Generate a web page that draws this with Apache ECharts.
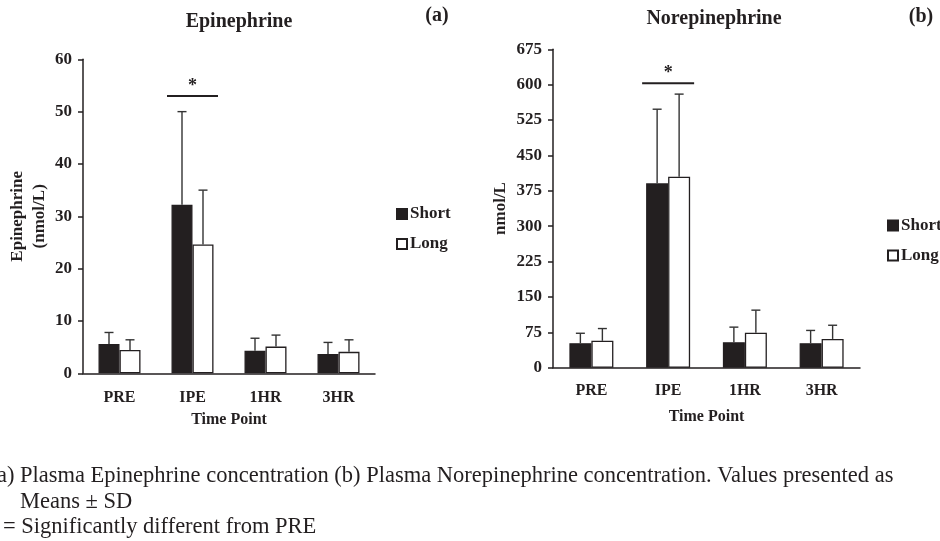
<!DOCTYPE html>
<html>
<head>
<meta charset="utf-8">
<script src="https://cdn.jsdelivr.net/npm/echarts@6/dist/echarts.min.js"></script>
<style>
  html, body { margin: 0; padding: 0; background: #fff; }
  #main { width: 940px; height: 541px; }
</style>
</head>
<body>
<div id="main"></div>
<script>
// time points
const categories = ['PRE', 'IPE', '1HR', '3HR'];

// (a) epinephrine, nmol/L
const epiShort = [5.6, 32.2, 4.3, 3.7];
const epiShortTop = [7.8, 50, 6.7, 5.9];
const epiLong = [4.45, 24.6, 5.1, 4.1];
const epiLongTop = [6.4, 35, 7.3, 6.4];

// (b) norepinephrine, nmol/L
const norShort = [52, 391, 54, 52];
const norShortTop = [73, 548, 86, 79];
const norLong = [57, 405, 74, 61];
const norLongTop = [83, 580, 122, 90];

// significance bar over IPE: [category index, y value]
const epiSig = [[1, 53]];
const norSig = [[1, 603]];

const ink = '#231f20';
const serif = '"Liberation Serif", "Times New Roman", serif';

var myChart = echarts.init(document.getElementById('main'));

// error bar: only the upper whisker with a cap
function errorBar(offset) {
  return function (params, api) {
    const base = api.coord([api.value(0), api.value(1)]);
    const top = api.coord([api.value(0), api.value(2)]);
    const x = base[0] + offset;
    const style = { stroke: '#333', lineWidth: 1.4 };
    return {
      type: 'group',
      children: [
        { type: 'line', shape: { x1: x, y1: base[1], x2: x, y2: top[1] }, style },
        { type: 'line', shape: { x1: x - 4.5, y1: top[1], x2: x + 4.5, y2: top[1] }, style }
      ]
    };
  };
}

// line with asterisk above
function sigMark(halfWidth) {
  return function (params, api) {
    const p = api.coord([api.value(0), api.value(1)]);
    return {
      type: 'group',
      children: [
        { type: 'line', shape: { x1: p[0] - halfWidth, y1: p[1], x2: p[0] + halfWidth, y2: p[1] },
          style: { stroke: ink, lineWidth: 2 } },
        { type: 'text', x: p[0], y: p[1] - 1,
          style: { text: '*', font: 'bold 18px ' + serif, fill: ink, textAlign: 'center', textVerticalAlign: 'bottom' } }
      ]
    };
  };
}

function zip(idx, a, b) {
  return a.map((v, i) => [idx[i], v, b[i]]);
}
const idx = categories.map((c, i) => i);

const labelFont = { fontFamily: serif, fontWeight: 'bold', color: ink };

function xAxis(gridIndex, labelMargin, nameGap) {
  return {
    type: 'category',
    gridIndex,
    data: categories,
    name: 'Time Point',
    nameLocation: 'middle',
    nameGap,
    nameTextStyle: { ...labelFont, fontSize: 16 },
    axisLine: { lineStyle: { color: ink, width: 1.5 } },
    axisTick: { length: 5, lineStyle: { color: ink, width: 1.5 } },
    axisLabel: { ...labelFont, fontSize: 16, margin: labelMargin },
    splitLine: { show: false }
  };
}

function yAxis(gridIndex, max, interval, name, nameGap) {
  return {
    type: 'value',
    gridIndex,
    min: 0,
    max,
    interval,
    name,
    nameLocation: 'middle',
    nameGap,
    nameRotate: 90,
    nameTextStyle: { ...labelFont, fontSize: 17, lineHeight: 22 },
    axisLine: { show: true, lineStyle: { color: ink, width: 1.5 } },
    axisTick: { show: true, length: 5, lineStyle: { color: ink, width: 1.5 } },
    axisLabel: { ...labelFont, fontSize: 17, margin: 11 },
    splitLine: { show: false }
  };
}

function bar(name, axisIndex, data, fill, width) {
  return {
    name,
    type: 'bar',
    xAxisIndex: axisIndex,
    yAxisIndex: axisIndex,
    data,
    barWidth: width,
    barGap: '0%',
    itemStyle: { color: fill, borderColor: ink, borderWidth: 1.3 },
    emphasis: { disabled: true },
    silent: true
  };
}

function whisker(axisIndex, data, offset) {
  return {
    type: 'custom',
    xAxisIndex: axisIndex,
    yAxisIndex: axisIndex,
    data,
    renderItem: errorBar(offset),
    silent: true,
    z: 3
  };
}

function legend(left, top) {
  return {
    left, top,
    orient: 'vertical',
    itemWidth: 10,
    itemHeight: 10,
    itemGap: 13,
    icon: 'rect',
    selectedMode: false,
    textStyle: { ...labelFont, fontSize: 17, padding: [0, 0, 0, -2] },
    data: ['Short', 'Long']
  };
}

const option = {
  backgroundColor: '#fff',
  animation: false,
  grid: [
    { left: 83, top: 59.3, width: 292, height: 314, containLabel: false, outerBoundsMode: 'none' },
    { left: 553, top: 49.3, width: 307, height: 318.4, containLabel: false, outerBoundsMode: 'none' }
  ],
  xAxis: [xAxis(0, 17, 39), xAxis(1, 15, 41)],
  yAxis: [
    yAxis(0, 60, 10, 'Epinephrine\n(nmol/L)', 31),
    yAxis(1, 675, 75, 'nmol/L', 41)
  ],
  legend: [
    legend(391, 200.5),
    legend(882, 212)
  ],
  series: [
    bar('Short', 0, epiShort, ink, 21),
    bar('Long', 0, epiLong, '#fff', 21),
    whisker(0, zip(idx, epiShort, epiShortTop), -10.5),
    whisker(0, zip(idx, epiLong, epiLongTop), 10.5),
    bar('Short', 1, norShort, ink, 22),
    bar('Long', 1, norLong, '#fff', 22),
    whisker(1, zip(idx, norShort, norShortTop), -11),
    whisker(1, zip(idx, norLong, norLongTop), 11),
    { type: 'custom', xAxisIndex: 0, yAxisIndex: 0, data: epiSig, renderItem: sigMark(25.5), silent: true },
    { type: 'custom', xAxisIndex: 1, yAxisIndex: 1, data: norSig, renderItem: sigMark(26), silent: true }
  ],
  graphic: [
    { type: 'text', x: 239, y: 22, style: { text: 'Epinephrine', font: 'bold 20px ' + serif, fill: ink, textAlign: 'center', textVerticalAlign: 'middle' } },
    { type: 'text', x: 437, y: 16, style: { text: '(a)', font: 'bold 20px ' + serif, fill: ink, textAlign: 'center', textVerticalAlign: 'middle' } },
    { type: 'text', x: 714, y: 19, style: { text: 'Norepinephrine', font: 'bold 20px ' + serif, fill: ink, textAlign: 'center', textVerticalAlign: 'middle' } },
    { type: 'text', x: 921, y: 17, style: { text: '(b)', font: 'bold 20px ' + serif, fill: ink, textAlign: 'center', textVerticalAlign: 'middle' } },
    { type: 'text', x: -10.6, y: 476, style: { text: '(a) Plasma Epinephrine concentration (b) Plasma Norepinephrine concentration. Values presented as', font: '22.5px ' + serif, fill: ink, textAlign: 'left', textVerticalAlign: 'middle' } },
    { type: 'text', x: 20, y: 502, style: { text: 'Means \u00b1 SD', font: '22.5px ' + serif, fill: ink, textAlign: 'left', textVerticalAlign: 'middle' } },
    { type: 'text', x: -14, y: 527, style: { text: '* = Significantly different from PRE', font: '22.5px ' + serif, fill: ink, textAlign: 'left', textVerticalAlign: 'middle' } }
  ]
};

myChart.setOption(option);
</script>
</body>
</html>
